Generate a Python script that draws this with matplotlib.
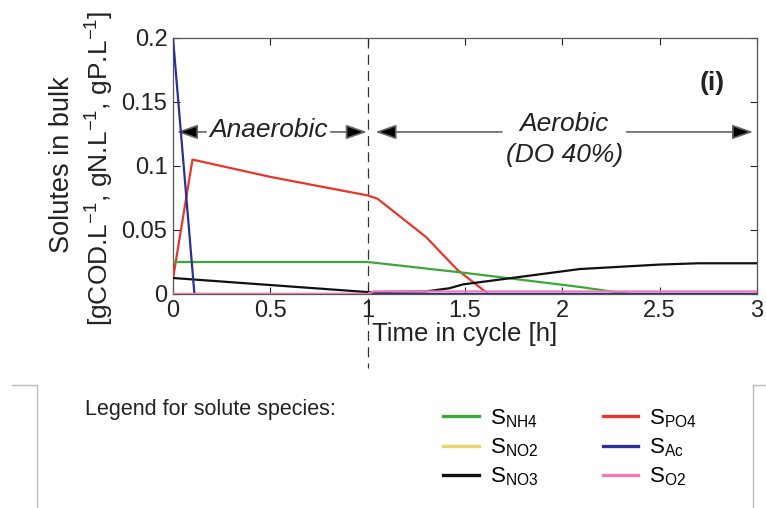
import matplotlib
matplotlib.use("Agg")
import matplotlib.pyplot as plt
from matplotlib.lines import Line2D

plt.rcParams.update(
    {
        "font.family": ["Liberation Sans", "DejaVu Sans"],
        "font.size": 16,
        "mathtext.fontset": "custom",
        "mathtext.rm": "Liberation Sans",
        "mathtext.it": "Liberation Sans:italic",
        "mathtext.bf": "Liberation Sans:bold",
    }
)

# values
t_nh4 = [0.0, 1.0, 1.06, 1.5, 2.09, 2.25, 2.35, 3.0]
s_nh4 = [0.025, 0.025, 0.024, 0.0165, 0.0055, 0.002, 0.0, 0.0]

t_no2 = [0.0, 3.0]
s_no2 = [0.0003, 0.0003]

t_no3 = [0.0, 1.0, 1.3, 1.42, 1.49, 2.09, 2.5, 2.7, 3.0]
s_no3 = [0.0125, 0.0015, 0.002, 0.0045, 0.0075, 0.0195, 0.023, 0.024, 0.024]

t_po4 = [0.0, 0.1, 0.5, 1.0, 1.05, 1.3, 1.46, 1.62, 3.0]
s_po4 = [0.012, 0.105, 0.0915, 0.077, 0.0745, 0.0445, 0.019, 0.0, 0.0]

t_ac = [0.0, 0.11, 3.0]
s_ac = [0.2, 0.0, 0.0]

t_o2 = [0.0, 1.0, 1.03, 3.0]
s_o2 = [0.0, 0.0, 0.002, 0.002]

x_ticks = [0, 0.5, 1, 1.5, 2, 2.5, 3]
x_tick_labels = ["0", "0.5", "1", "1.5", "2", "2.5", "3"]
y_ticks = [0, 0.05, 0.1, 0.15, 0.2]
y_tick_labels = ["0", "0.05", "0.1", "0.15", "0.2"]

C_NH4 = "#3aa83a"
C_NO2 = "#ecd36a"
C_NO3 = "#111111"
C_PO4 = "#e8352b"
C_AC = "#2b2f96"
C_O2 = "#f07ab4"
INK = "#222222"

fig = plt.figure(figsize=(7.66, 5.08), dpi=100)
ax = fig.add_axes([173 / 766, 1 - 294 / 508, 584 / 766, 256 / 508])

lw = 1.6
ax.plot(t_no2, s_no2, color=C_NO2, lw=lw, zorder=2)
ax.plot(t_po4, s_po4, color=C_PO4, lw=lw, zorder=3)
ax.plot(t_nh4, s_nh4, color=C_NH4, lw=lw, zorder=4)
ax.plot(t_no3, s_no3, color=C_NO3, lw=lw, zorder=5)
ax.plot(t_ac, s_ac, color=C_AC, lw=lw, zorder=6)
ax.plot(t_o2, s_o2, color=C_O2, lw=lw, zorder=7)

ax.set_xlim(0, 3)
ax.set_ylim(0, 0.2)
ax.set_xticks(x_ticks, x_tick_labels)
ax.set_yticks(y_ticks, y_tick_labels)
ax.tick_params(direction="in", top=True, right=True, length=5, width=0.8,
               labelsize=17, colors=INK, pad=4)
for sp in ax.spines.values():
    sp.set_color("#555555")
    sp.set_linewidth(0.9)

# phase separator, runs below the axis
ax.plot([1, 1], [0.2, -0.058], color="#333333", lw=0.9, dashes=(8, 5),
        clip_on=False, zorder=1)

ax.set_xlabel("Time in cycle [h]", fontsize=18.5, labelpad=0, color=INK)
fig.text(62 / 766, 1 - 165 / 508, "Solutes in bulk", rotation=90,
         ha="center", va="center", fontsize=19.5, color=INK)
fig.text(100 / 766, 1 - 168 / 508,
         r"[gCOD.L$^{-1}$, gN.L$^{-1}$, gP.L$^{-1}$]", rotation=90,
         ha="center", va="center", fontsize=19, color=INK)


def phase_arrow(x_from, x_to, y):
    ax.annotate(
        "",
        xy=(x_to, y),
        xytext=(x_from, y),
        arrowprops=dict(arrowstyle="-|>,head_length=0.8,head_width=0.28",
                        fc="black", ec="#666666", lw=1.2,
                        shrinkA=0, shrinkB=0),
    )


arrow_y = 0.1266
ax.text(0.49, 0.1285, "Anaerobic", style="italic", fontsize=19,
        ha="center", va="center", color=INK)
phase_arrow(0.17, 0.02, arrow_y)
phase_arrow(0.81, 0.996, arrow_y)

ax.text(2.01, 0.1325, "Aerobic", style="italic", fontsize=19,
        ha="center", va="center", color=INK)
ax.text(2.01, 0.1085, "(DO 40%)", style="italic", fontsize=19,
        ha="center", va="center", color=INK)
phase_arrow(1.69, 1.04, arrow_y)
phase_arrow(2.33, 2.98, arrow_y)

ax.text(2.77, 0.165, "(i)", fontweight="bold", fontsize=19,
        ha="center", va="center", color=INK)

# legend panel frame corners
frame = "#bbbbbb"
fig.add_artist(Line2D([12 / 766, 37 / 766], [1 - 385 / 508] * 2, color=frame, lw=1))
fig.add_artist(Line2D([37 / 766] * 2, [1 - 385 / 508, 0], color=frame, lw=1))
fig.add_artist(Line2D([753 / 766, 1], [1 - 385 / 508] * 2, color=frame, lw=1))
fig.add_artist(Line2D([753 / 766] * 2, [1 - 385 / 508, 0], color=frame, lw=1))

fig.text(85 / 766, 1 - 410 / 508, "Legend for solute species:", fontsize=15.5,
         ha="left", va="center", color=INK)

names = [r"S$_{\mathrm{NH4}}$", r"S$_{\mathrm{NO2}}$", r"S$_{\mathrm{NO3}}$",
         r"S$_{\mathrm{PO4}}$", r"S$_{\mathrm{Ac}}$", r"S$_{\mathrm{O2}}$"]
colors = [C_NH4, C_NO2, C_NO3, C_PO4, C_AC, C_O2]
handles = [Line2D([], [], color=c, lw=2.4) for c in colors]
fig.legend(handles, names, loc="upper left",
           bbox_to_anchor=(432 / 766, 1 - 396 / 508), ncol=2, frameon=False,
           fontsize=16, handlelength=1.6, handletextpad=0.5,
           columnspacing=2.9, labelspacing=0.3, borderpad=0.0)

fig.savefig("out.png", dpi=100, facecolor="white")
